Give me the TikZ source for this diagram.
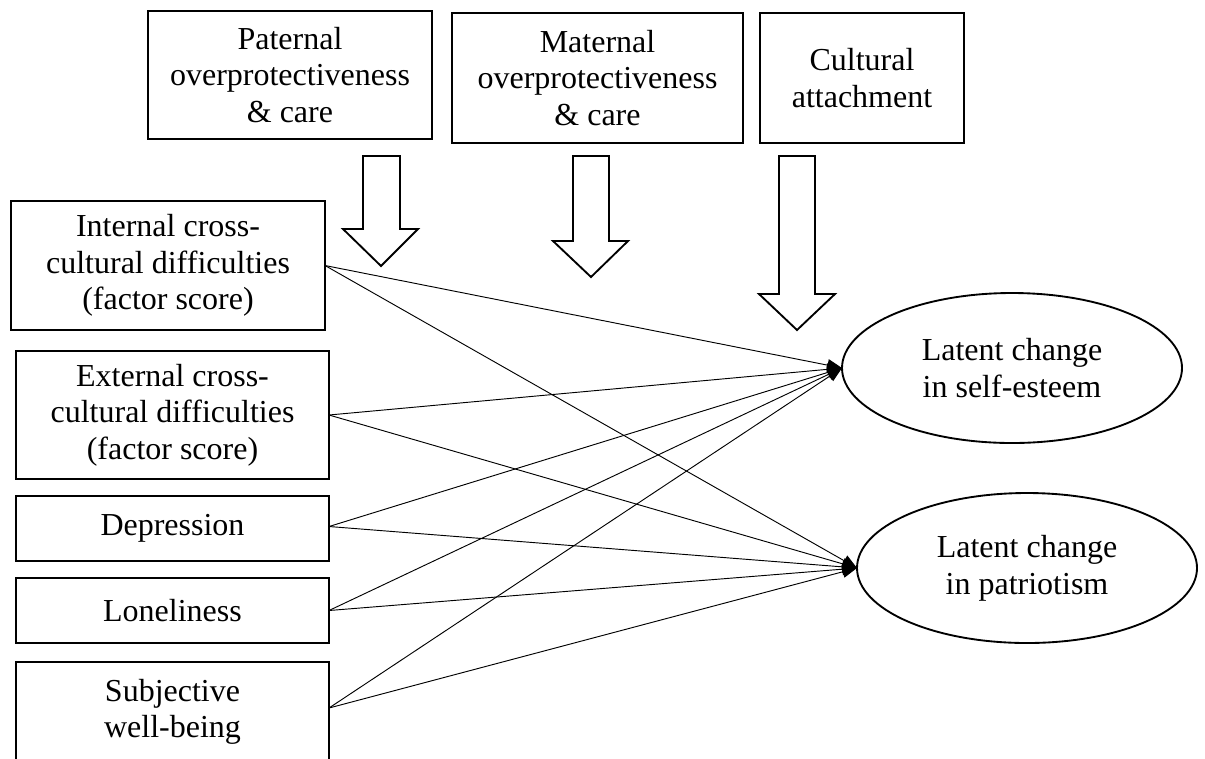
\documentclass[tikz,border=0pt]{standalone}
\usepackage{fontspec}
\setmainfont{Liberation Serif}
\usetikzlibrary{arrows.meta,shapes.geometric}
\begin{document}
\begin{tikzpicture}[x=0.75pt,y=-0.75pt,
  box/.style={draw,line width=1.4pt,rectangle,align=center,inner sep=0pt,outer sep=0pt,
    font=\fontsize{24}{27.3}\selectfont},
  lat/.style={draw,line width=1.4pt,ellipse,align=center,inner sep=0pt,outer sep=0pt,
    minimum width=255pt,minimum height=112.5pt,font=\fontsize{24}{27.5}\selectfont},
  blockarrow/.style={draw,line width=1.4pt,fill=white,line join=miter},
  conn/.style={line width=0.7pt,-{Triangle[length=11pt,width=9pt]}}]
\useasboundingbox (0,0) rectangle (1205,758);
\begin{scope}
\clip (0,0) rectangle (1205,758);
% top moderator boxes
\node[box,minimum width=213pt,minimum height=96pt] (pat) at (290,75) {Paternal\\overprotectiveness\\\& care};
\node[box,minimum width=218.25pt,minimum height=97.5pt] (mat) at (597.5,78) {Maternal\\overprotectiveness\\\& care};
\node[box,minimum width=153pt,minimum height=97.5pt] (cul) at (862,78) {Cultural\\attachment};
% predictor boxes
\node[box,minimum width=235.5pt,minimum height=96.75pt] (int) at (168,265.5) {Internal cross-\\cultural difficulties\\(factor score)};
\node[box,minimum width=234.75pt,minimum height=96pt] (ext) at (172.5,415) {External cross-\\cultural difficulties\\(factor score)};
\node[box,minimum width=234.75pt,minimum height=48.75pt] (dep) at (172.5,528.5) {Depression};
\node[box,minimum width=234.75pt,minimum height=48.75pt] (lon) at (172.5,610.5) {Loneliness};
\node[box,minimum width=234.75pt,minimum height=75pt] (sub) at (172.5,712) {Subjective\\well-being};
% outcomes
\node[lat] (se) at (1012,368) {Latent change\\in self-esteem};
\node[lat] (pa) at (1027,568) {Latent change\\in patriotism};
% block arrows
\draw[blockarrow] (363,156) -- (400,156) -- (400,229) -- (418,229) -- (381,266) -- (343,229) -- (363,229) -- cycle;
\draw[blockarrow] (573,156) -- (609,156) -- (609,241) -- (628,241) -- (591,277) -- (553,241) -- (573,241) -- cycle;
\draw[blockarrow] (779,156) -- (815,156) -- (815,294) -- (835,294) -- (797,330) -- (759,294) -- (779,294) -- cycle;
% paths
\foreach \s/\dy in {int/0,ext/0,dep/1.5,lon/0,sub/3}{
  \draw[conn] ([yshift=\dy pt]\s.east) -- (se.west);
  \draw[conn] ([yshift=\dy pt]\s.east) -- (pa.west);
}
\end{scope}
\end{tikzpicture}
\end{document}
